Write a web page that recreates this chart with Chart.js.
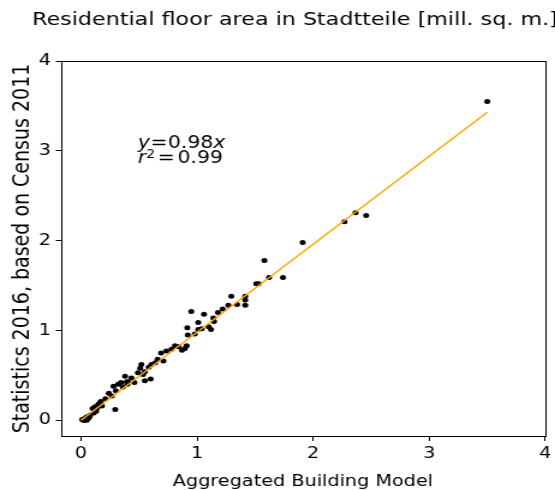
<!DOCTYPE html>
<html>
<head>
<meta charset="utf-8">
<style>
html,body{margin:0;padding:0;background:#fff;overflow:hidden}
</style>
<script src="https://cdn.jsdelivr.net/npm/chart.js@4/dist/chart.umd.min.js"></script>
</head>
<body>
<canvas id="c" width="462" height="490" style="width:555px;height:490px;display:block"></canvas>
<script>
// ---- texts ----
const titleText = 'Residential floor area in Stadtteile [mill. sq. m.]';
const xLabel = 'Aggregated Building Model';
const yLabel = 'Statistics 2016, based on Census 2011';

// ---- tick labels ----
const xTicks = [0, 1, 2, 3, 4];
const yTicks = [0, 1, 2, 3, 4];

// ---- scatter data (mill. sq. m.) ----
const modelValues = [
  0.01,0.02,0.03,0.04,0.05,0.06,0.07,0.03,0.05,0.08,
  0.10,0.12,0.13,0.15,0.17,0.11,0.14,0.18,
  0.21,0.24,0.265,0.28,0.295,0.30,0.32,0.345,0.36,0.38,0.395,0.40,
  0.435,0.405,0.46,0.49,0.51,0.52,0.535,0.55,0.55,0.60,0.584,0.607,0.64,0.66,
  0.69,0.71,0.735,0.78,0.81,0.84,0.87,0.895,0.91,0.916,0.92,0.95,0.98,
  1.01,1.01,1.04,1.06,1.10,1.12,1.146,1.14,1.18,1.22,1.27,1.295,1.345,1.415,1.415,1.415,
  1.51,1.53,1.58,1.62,1.74,1.91,2.27,2.365,2.457,3.50
];
const censusValues = [
  0.01,0.00,0.02,0.01,0.00,0.02,0.03,0.00,0.04,0.06,
  0.13,0.15,0.10,0.18,0.21,0.08,0.14,0.16,
  0.24,0.30,0.27,0.38,0.12,0.33,0.40,0.42,0.37,0.49,0.43,0.40,
  0.47,0.43,0.42,0.53,0.58,0.62,0.51,0.54,0.44,0.46,0.59,0.62,0.64,0.68,
  0.75,0.66,0.77,0.79,0.83,0.82,0.78,0.80,0.83,1.03,0.95,1.21,0.96,
  1.09,1.01,1.02,1.18,1.04,1.01,1.10,1.14,1.20,1.24,1.28,1.38,1.29,1.38,1.34,1.28,
  1.52,1.52,1.78,1.59,1.59,1.98,2.21,2.31,2.28,3.55
];

// ---- regression line y = 0.98x ----
const fitX = [0, 3.5];
const fitY = [0, 3.43];

// ---- annotation text ----
const annoLine1 = [{t:'y', it:true}, {t:'=', pre:0.02, post:0.02}, {t:'0.98'}, {t:'x', it:true}];
const annoLine2 = [{t:'r', it:true}, {t:'2', sup:true}, {t:'=', pre:0.12, post:0.14}, {t:'0.99'}];
const annoPos = {x: 0.49, y1: 3.03, y2: 2.86};

const FONT = '"DejaVu Sans", "Liberation Sans", sans-serif';

function drawMath(ctx, parts, x0, yb, size) {
  let x = x0;
  for (const p of parts) {
    const s = p.sup ? size * 0.68 : size;
    ctx.font = (p.it ? 'italic ' : '') + s + 'px ' + FONT;
    const dy = p.sup ? -size * 0.3 : 0;
    x += (p.pre || 0) * size;
    ctx.fillText(p.t, x, yb + dy);
    x += ctx.measureText(p.t).width + (p.post || 0) * size;
  }
}

const decor = {
  id: 'decor',
  afterDraw(chart) {
    const {ctx, chartArea: a, scales} = chart;
    ctx.save();
    ctx.strokeStyle = '#000';
    ctx.lineWidth = 1;
    ctx.strokeRect(Math.round(a.left) + 0.5, Math.round(a.top) + 0.5,
                   Math.round(a.right - a.left), Math.round(a.bottom - a.top));
    ctx.fillStyle = '#000';
    ctx.textBaseline = 'alphabetic';
    ctx.textAlign = 'center';
    ctx.font = '18.5px ' + FONT;
    ctx.fillText(titleText, 245.5, 25);
    ctx.textAlign = 'left';
    const ax = scales.x.getPixelForValue(annoPos.x);
    drawMath(ctx, annoLine1, ax, scales.y.getPixelForValue(annoPos.y1), 17);
    drawMath(ctx, annoLine2, ax, scales.y.getPixelForValue(annoPos.y2), 17);
    ctx.restore();
  }
};

function axisCommon(ticksArr, label, isX) {
  return {
    type: 'linear',
    min: -0.175,
    max: 4,
    afterBuildTicks: s => { s.ticks = ticksArr.map(v => ({value: v})); },
    afterFit: s => { if (isX) s.height = 54; else s.width = 50.5; },
    grid: {display: true, drawOnChartArea: false, drawTicks: true,
           tickLength: isX ? 5 : 4, color: '#000', lineWidth: 1},
    border: {display: false},
    ticks: {font: {family: FONT, size: 16}, color: '#000', padding: isX ? 3 : 4,
            maxRotation: 0, autoSkip: false, callback: v => String(v)},
    title: {display: true, text: label, color: '#000',
            font: {family: FONT, size: isX ? 16 : 19, lineHeight: isX ? 1 : 1.2},
            padding: isX ? {top: 0, bottom: 0} : {top: 8, bottom: 0}}
  };
}

new Chart(document.getElementById('c'), {
  type: 'scatter',
  data: {
    datasets: [
      {
        type: 'line',
        data: fitX.map((v, i) => ({x: v, y: fitY[i]})),
        borderColor: '#FFA500',
        borderWidth: 1.5,
        pointRadius: 0,
        fill: false,
        tension: 0
      },
      {
        data: modelValues.map((v, i) => ({x: v, y: censusValues[i]})),
        backgroundColor: '#000',
        borderWidth: 0,
        pointRadius: 2.5
      }
    ]
  },
  options: {
    responsive: false,
    devicePixelRatio: 1,
    animation: false,
    layout: {padding: {left: 0, right: 7.5, top: 61, bottom: 0}},
    plugins: {legend: {display: false}, tooltip: {enabled: false}, title: {display: false}},
    scales: {
      x: axisCommon(xTicks, xLabel, true),
      y: axisCommon(yTicks, yLabel, false)
    }
  },
  plugins: [decor]
});
</script>
</body>
</html>
